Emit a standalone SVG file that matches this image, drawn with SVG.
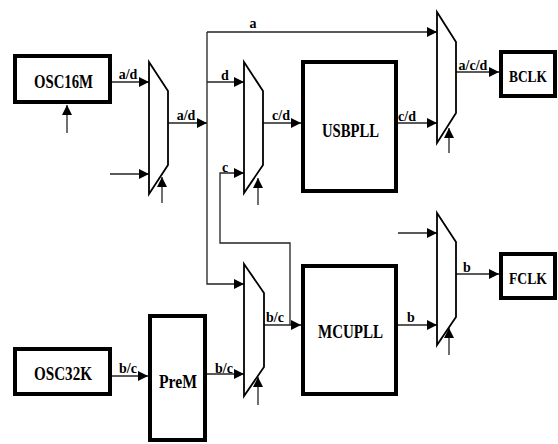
<svg xmlns="http://www.w3.org/2000/svg" width="558" height="444" viewBox="0 0 558 444">
<style>
.box{fill:#fff;stroke:#000;stroke-width:4}
.mux{fill:#fff;stroke:#000;stroke-width:1.8}
.w{fill:none;stroke:#222;stroke-width:1.3}
.bt{font-family:"Liberation Serif",serif;font-weight:bold;font-size:19px;fill:#000}
.lb{font-family:"Liberation Serif",serif;font-weight:bold;font-size:14px;fill:#000}
</style>
<defs>
<marker id="ah" markerUnits="userSpaceOnUse" markerWidth="10" markerHeight="10" viewBox="0 0 10 10" refX="10" refY="5" orient="auto">
<path d="M0,0 L10,5 L0,10 Z" fill="#000"/>
</marker>
</defs>
<rect width="558" height="444" fill="#fff"/>
<g id="connectors">
<path class="w" d="M67,133 V105" marker-end="url(#ah)"/>
<path class="w" d="M112,82 H149" marker-end="url(#ah)"/>
<path class="w" d="M110,174 H149" marker-end="url(#ah)"/>
<path class="w" d="M162,203 V177" marker-end="url(#ah)"/>
<path class="w" d="M168,123 H207" marker-end="url(#ah)"/>
<path class="w" d="M207,32 H437" marker-end="url(#ah)"/>
<path class="w" d="M207,32 V284 H244" marker-end="url(#ah)"/>
<path class="w" d="M207,82 H244" marker-end="url(#ah)"/>
<path class="w" d="M263,123 H301" marker-end="url(#ah)"/>
<path class="w" d="M290,325 V243 H220 V173 H244" marker-end="url(#ah)"/>
<path class="w" d="M258,205 V178" marker-end="url(#ah)"/>
<path class="w" d="M397,123 H437" marker-end="url(#ah)"/>
<path class="w" d="M456,72 H499" marker-end="url(#ah)"/>
<path class="w" d="M449,153 V128" marker-end="url(#ah)"/>
<path class="w" d="M112,376 H148" marker-end="url(#ah)"/>
<path class="w" d="M207,374 H244" marker-end="url(#ah)"/>
<path class="w" d="M264,325 H301" marker-end="url(#ah)"/>
<path class="w" d="M258,405 V377" marker-end="url(#ah)"/>
<path class="w" d="M397,325 H437" marker-end="url(#ah)"/>
<path class="w" d="M398,233 H437" marker-end="url(#ah)"/>
<path class="w" d="M456,274 H499" marker-end="url(#ah)"/>
<path class="w" d="M449,355 V328" marker-end="url(#ah)"/>
</g>
<g id="labels">
<text class="lb" x="128" y="79" text-anchor="middle">a/d</text>
<text class="lb" x="186" y="120" text-anchor="middle">a/d</text>
<text class="lb" x="253" y="28" text-anchor="middle">a</text>
<text class="lb" x="225" y="80" text-anchor="middle">d</text>
<text class="lb" x="225" y="172" text-anchor="middle">c</text>
<text class="lb" x="281" y="120" text-anchor="middle">c/d</text>
<text class="lb" x="407" y="121" text-anchor="middle">c/d</text>
<text class="lb" x="473" y="70" text-anchor="middle">a/c/d</text>
<text class="lb" x="128" y="373" text-anchor="middle">b/c</text>
<text class="lb" x="224" y="373" text-anchor="middle">b/c</text>
<text class="lb" x="275" y="322" text-anchor="middle">b/c</text>
<text class="lb" x="411" y="322" text-anchor="middle">b</text>
<text class="lb" x="467" y="272" text-anchor="middle">b</text>
</g>
<g id="osc16m"><rect class="box" x="15" y="56" width="95" height="46"/><text class="bt" x="34" y="88" textLength="59" lengthAdjust="spacingAndGlyphs">OSC16M</text></g>
<g id="osc32k"><rect class="box" x="15" y="349" width="95" height="45"/><text class="bt" x="34" y="380" textLength="58" lengthAdjust="spacingAndGlyphs">OSC32K</text></g>
<g id="prem"><rect class="box" x="150" y="316" width="55" height="124"/><text class="bt" x="159" y="388" textLength="38" lengthAdjust="spacingAndGlyphs">PreM</text></g>
<g id="usbpll"><rect class="box" x="303" y="62" width="93" height="129"/><text class="bt" x="322" y="137" textLength="57" lengthAdjust="spacingAndGlyphs">USBPLL</text></g>
<g id="mcupll"><rect class="box" x="303" y="266" width="93" height="128"/><text class="bt" x="318" y="338" textLength="65" lengthAdjust="spacingAndGlyphs">MCUPLL</text></g>
<g id="bclk"><rect class="box" x="501" y="52" width="54" height="44"/><text class="bt" x="509" y="82" style="font-size:17px" textLength="38" lengthAdjust="spacingAndGlyphs">BCLK</text></g>
<g id="fclk"><rect class="box" x="501" y="254" width="54" height="44"/><text class="bt" x="509" y="284" style="font-size:17px" textLength="38" lengthAdjust="spacingAndGlyphs">FCLK</text></g>
<g id="mux1"><polygon class="mux" points="149,62 168,91 168,165 149,194"/></g>
<g id="mux2"><polygon class="mux" points="244,62 263,91 263,165 244,193"/></g>
<g id="mux3"><polygon class="mux" points="437,12 456,42 456,113 437,143"/></g>
<g id="mux4"><polygon class="mux" points="244,264 264,293 264,367 244,396"/></g>
<g id="mux5"><polygon class="mux" points="437,213 456,242 456,317 437,345"/></g>
</svg>
